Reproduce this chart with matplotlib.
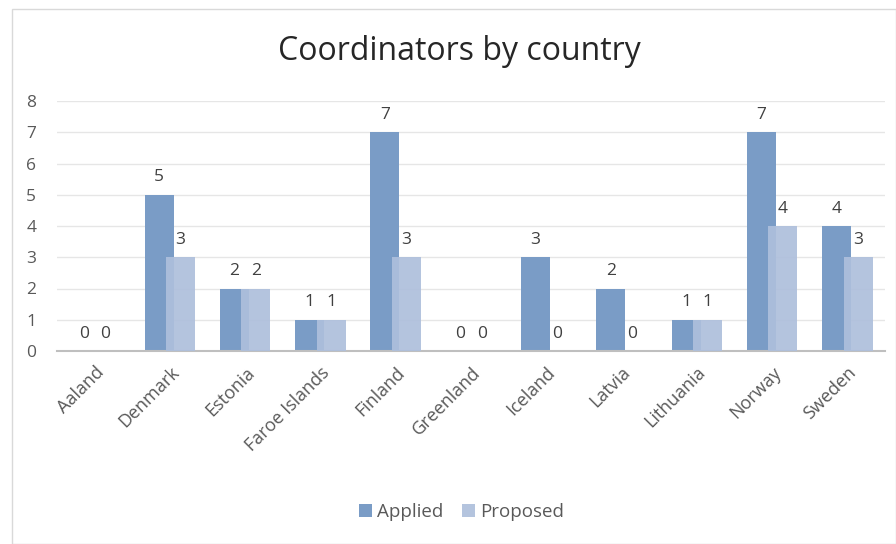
import matplotlib.pyplot as plt
import numpy as np
from matplotlib.patches import Rectangle

# data
countries = ["Aaland", "Denmark", "Estonia", "Faroe Islands", "Finland", "Greenland",
             "Iceland", "Latvia", "Lithuania", "Norway", "Sweden"]
applied = [0, 5, 2, 1, 7, 0, 3, 2, 1, 7, 4]
proposed = [0, 3, 2, 1, 3, 0, 0, 0, 1, 4, 3]

plt.rcParams['font.family'] = ['Open Sans', 'DejaVu Sans']

fig = plt.figure(figsize=(8.96, 5.44), dpi=100)
fig.patches.append(Rectangle((12/896, 0.0), 1 - 12/896, 1 - 9/544, transform=fig.transFigure,
                             fill=False, edgecolor="#d9d9d9", linewidth=1.0))
ax = fig.add_axes([57/896, 193/544, 828/896, 250/544])

x = np.arange(len(countries))
w = 0.385
off = 0.143
ax.bar(x - off, applied, w, color="#7a9cc6", label="Applied", zorder=2)
ax.bar(x + off, proposed, w, color="#aebfdc", alpha=0.92, label="Proposed", zorder=3)

for i in range(len(countries)):
    ax.text(x[i] - off, applied[i] + 0.3, str(applied[i]), ha="center", va="bottom",
            fontsize=12.5, color="#404040")
    ax.text(x[i] + off, proposed[i] + 0.3, str(proposed[i]), ha="center", va="bottom",
            fontsize=12.5, color="#404040")

ax.set_xlim(-0.5, len(countries) - 0.5)
ax.set_ylim(0, 8)
ax.set_yticks(range(0, 9))
ax.yaxis.grid(True, color="#e6e6e6", linewidth=1, zorder=0)
ax.set_axisbelow(True)
for s in ["top", "right", "left"]:
    ax.spines[s].set_visible(False)
ax.spines["bottom"].set_color("#bfbfbf")
ax.spines["bottom"].set_linewidth(1.5)
ax.tick_params(axis="both", length=0, labelsize=12.5, labelcolor="#595959")
ax.tick_params(axis="y", pad=15)
ax.set_xticks(x)
ax.set_xticklabels(countries, rotation=45, ha="right", rotation_mode="anchor", fontsize=13)
ax.tick_params(axis="x", pad=9)

fig.text(0.513, 0.905, "Coordinators by country", ha="center", va="center", fontsize=23, color="#262626")
fig.legend(loc="center", bbox_to_anchor=(0.515, 0.058), ncol=2, frameon=False, fontsize=13.5,
           handlelength=0.7, handleheight=0.7, handletextpad=0.25, columnspacing=1.0,
           labelcolor="#595959")

plt.savefig("out.png", dpi=100)
